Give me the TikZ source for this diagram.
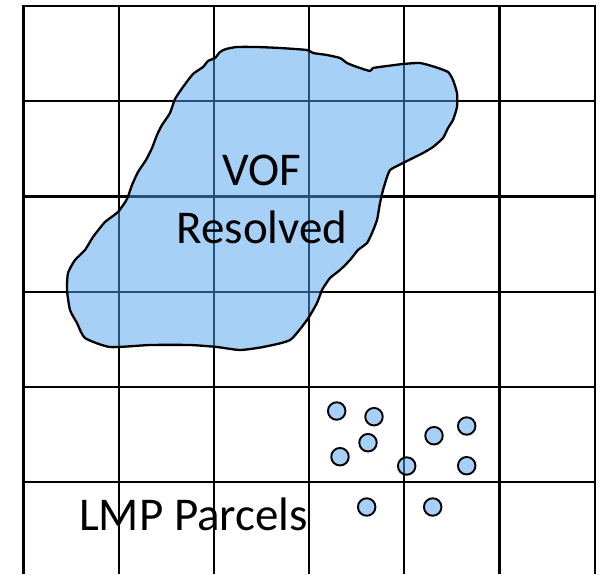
\documentclass[tikz,border=0pt]{standalone}
\usepackage{fontspec}
\setmainfont{Carlito}
\definecolor{blobblue}{RGB}{77,161,235}
\begin{document}
\begin{tikzpicture}[x=1pt,y=-1pt,
  gridline/.style={line width=2.2pt,black},
  blob/.style={draw=black,line width=2.3pt,fill=blobblue,fill opacity=0.5,line join=round},
  parcel/.style={circle,draw=black,line width=1.9pt,fill=blobblue,fill opacity=0.5,minimum size=17.5pt,inner sep=0pt},
  lbl/.style={font=\fontsize{47}{57}\selectfont,inner sep=0pt,text=black}]
\useasboundingbox (0,0) rectangle (605,574);
% grid
\foreach \i in {0,...,6}{
  \draw[gridline] ({23.5+95.2*\i},6) -- ({23.5+95.2*\i},574);
}
\foreach \j in {0,...,5}{
  \draw[gridline] (22.4,{6+95.2*\j}) -- (595.8,{6+95.2*\j});
}
% VOF blob
\draw[blob] plot[smooth cycle,tension=0.35] coordinates {
(67,290) (68,273) (75,260) (85,250) (93,237) (105,222) (118,212) (127,199)
(132,185) (138,172) (146,160) (152,148) (157,135) (162,125) (170,113) (175,99)
(183,87) (193,74) (203,67) (208,61) (215,58) (220,52) (226,49) (237,47)
(257,47) (280,48) (307,50) (313,53) (327,55) (340,58) (347,63) (357,67)
(370,71) (373,68) (387,66) (403,64) (420,63) (435,67) (448,72) (453,80)
(457,93) (457,107) (453,120) (448,128) (443,138) (433,147) (423,153) (413,158)
(403,163) (395,167) (390,170) (387,177) (383,190) (380,203) (377,220) (372,233)
(367,243) (358,250) (350,260) (340,270) (330,278) (322,290) (317,303) (307,320)
(290,340) (263,347) (240,350) (217,347) (190,345) (150,345) (110,347) (85,338)
(77,323) (70,310)};
% LMP parcels
\node[parcel] (p1) at (336.7,411) {};
\node[parcel] (p2) at (374,416.7) {};
\node[parcel] (p3) at (368,442.7) {};
\node[parcel] (p4) at (340,456.7) {};
\node[parcel] (p5) at (406.7,466) {};
\node[parcel] (p6) at (434,435.7) {};
\node[parcel] (p7) at (466.7,426) {};
\node[parcel] (p8) at (466.7,465.7) {};
\node[parcel] (p9) at (366.7,507) {};
\node[parcel] (p10) at (432.7,507) {};
% labels
\node[lbl,anchor=base] (vof) at (262,185) {VOF};
\node[lbl,anchor=base] (res) at (262,243) {Resolved};
\node[lbl,anchor=base west] (lmp) at (79,530) {LMP Parcels};
\end{tikzpicture}
\end{document}
